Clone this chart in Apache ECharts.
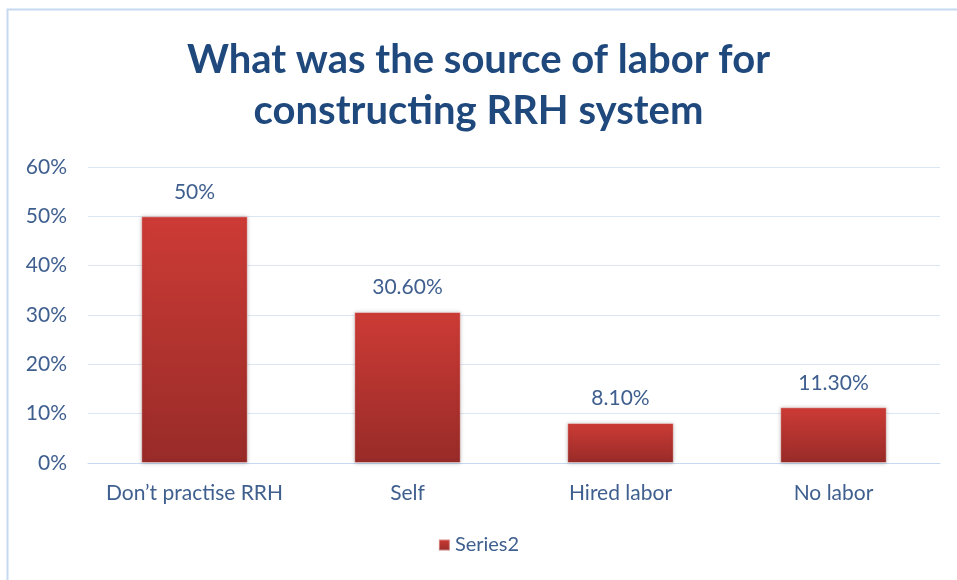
<!DOCTYPE html>
<html>
<head>
<meta charset="utf-8">
<script src="https://cdn.jsdelivr.net/npm/echarts@6/dist/echarts.min.js"></script>
<style>
  html, body { margin: 0; padding: 0; background: #fff; }
  #chart { width: 957px; height: 580px; }
</style>
</head>
<body>
<div id="chart"></div>
<script>
// Source of labour used to build RRH systems (share of respondents, %)
const categories = ["Don\u2019t practise RRH", "Self", "Hired labor", "No labor"];
const values = [50, 30.6, 8.1, 11.3];
const valueLabels = ["50%", "30.60%", "8.10%", "11.30%"];
const seriesName = "Series2";

const textColor = "#3f5f8f";
const font = "Lato, 'Open Sans', sans-serif";

const chart = echarts.init(document.getElementById("chart"), null, { renderer: "canvas" });

chart.setOption({
  animation: false,
  backgroundColor: "#ffffff",
  title: {
    text: "What was the source of labor for\nconstructing RRH system",
    left: "center",
    top: 30,
    textStyle: {
      fontFamily: font,
      fontWeight: "bold",
      fontSize: 40,
      lineHeight: 51,
      color: "#1f497d"
    }
  },
  graphic: [{
    type: "rect",
    shape: { x: 7.5, y: 9.5, width: 970, height: 600 },
    style: { fill: "none", stroke: "#c6d9f1", lineWidth: 2 },
    silent: true
  }],
  legend: {
    bottom: 20,
    left: "center",
    itemWidth: 11,
    itemHeight: 11,
    itemGap: 4,
    textStyle: { fontFamily: font, fontSize: 20, color: textColor },
    data: [{ name: seriesName, icon: "rect" }]
  },
  grid: { left: 88, right: 17, top: 167, bottom: 117, containLabel: false },
  xAxis: {
    type: "category",
    data: categories,
    axisLine: { lineStyle: { color: "#c6d9f1", width: 1 } },
    axisTick: { show: false },
    axisLabel: { interval: 0, fontFamily: font, fontSize: 21, color: textColor, margin: 20 }
  },
  yAxis: {
    type: "value",
    min: 0,
    max: 60,
    interval: 10,
    axisLine: { show: false },
    axisTick: { show: false },
    splitLine: { lineStyle: { color: "#dce6f2", width: 1 } },
    axisLabel: {
      fontFamily: font, fontSize: 21, color: textColor, margin: 21,
      formatter: v => v + "%"
    }
  },
  series: [{
    name: seriesName,
    type: "bar",
    data: values,
    barWidth: "50%",
    itemStyle: {
      color: new echarts.graphic.LinearGradient(0, 0, 0, 1, [
        { offset: 0, color: "#cd3b36" },
        { offset: 1, color: "#982b28" }
      ]),
      borderColor: "rgba(255,255,255,0.4)",
      borderWidth: 1,
      shadowColor: "rgba(0,0,0,0.25)",
      shadowBlur: 4
    },
    label: {
      show: true,
      position: "top",
      distance: 14,
      fontFamily: font,
      fontSize: 21,
      color: textColor,
      formatter: p => valueLabels[p.dataIndex]
    }
  }]
});
</script>
</body>
</html>
